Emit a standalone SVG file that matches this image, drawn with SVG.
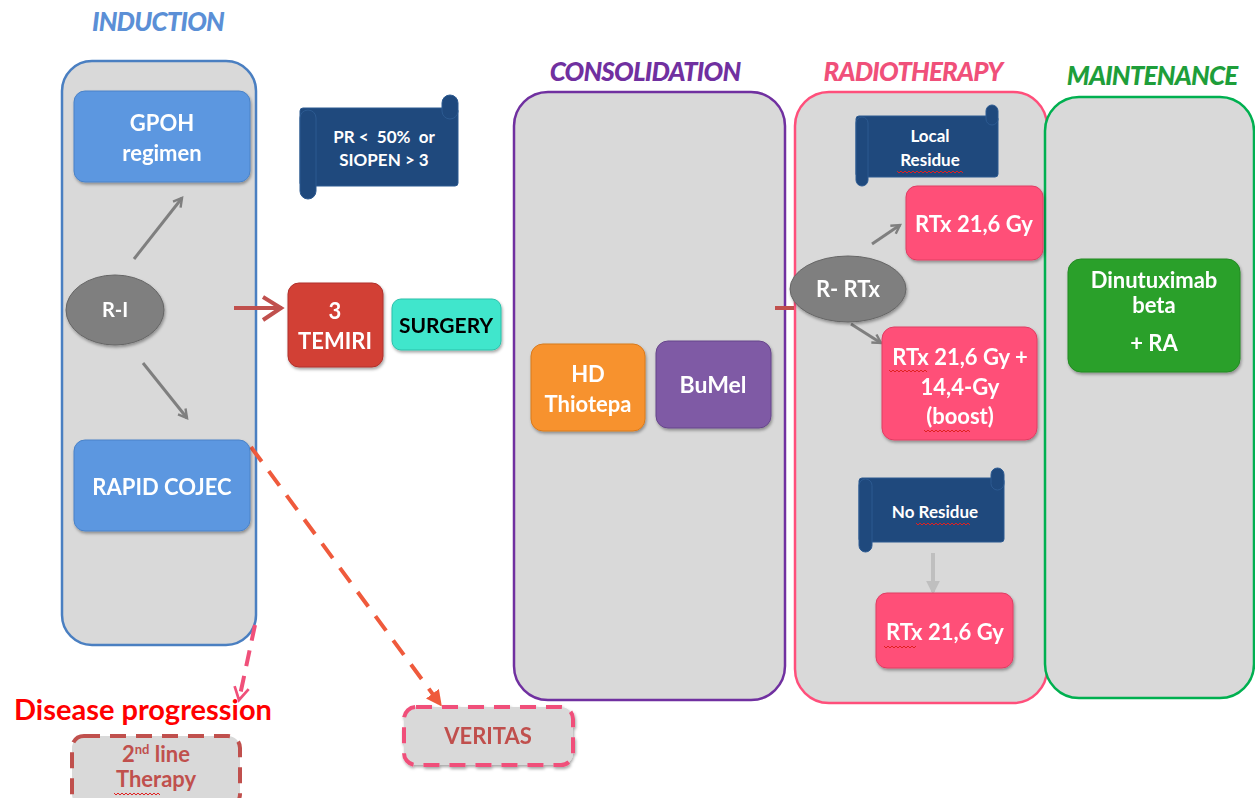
<svg xmlns="http://www.w3.org/2000/svg" width="1255" height="798" viewBox="0 0 1255 798">
<style>
text{font-family:Lato,"Open Sans","Liberation Sans",sans-serif;font-weight:bold;text-anchor:middle}
.title{font-style:italic;font-size:26px;font-weight:900;letter-spacing:-0.8px}
.phase{fill:#d9d9d9;stroke-width:2.5}
.w{fill:#fff;font-size:22px}
.ws{fill:#fff;font-size:17px}
.box{filter:url(#sh)}
.scroll{fill:#1f497d;stroke:#2c5a91;stroke-width:1}
.garr{stroke:#7f7f7f;stroke-width:3;fill:none}
.wavy{fill:none;stroke:#e02020;stroke-width:1}
</style>
<defs>
<filter id="sh" x="-10%" y="-10%" width="125%" height="130%">
<feDropShadow dx="1" dy="2" stdDeviation="1.5" flood-color="#000" flood-opacity="0.35"/>
</filter>
<marker id="ga" viewBox="0 0 10 10" refX="8" refY="5" markerWidth="4" markerHeight="4" orient="auto">
<path d="M1,1 L8,5 L1,9" fill="none" stroke="#7f7f7f" stroke-width="2"/>
</marker>
<marker id="la" viewBox="0 0 10 10" refX="8" refY="5" markerWidth="3.5" markerHeight="3.5" orient="auto">
<path d="M0,0 L10,5 L0,10 z" fill="#bfbfbf"/>
</marker>
<marker id="oa" viewBox="0 0 10 10" refX="8" refY="5" markerWidth="4" markerHeight="4" orient="auto">
<path d="M0,0 L10,5 L0,10 z" fill="#ef5a3c"/>
</marker>
<marker id="pa" viewBox="0 0 10 10" refX="8" refY="5" markerWidth="4.5" markerHeight="4.5" orient="auto">
<path d="M1,1 L8,5 L1,9" fill="none" stroke="#f0507a" stroke-width="1.5"/>
</marker>
</defs>

<!-- phase titles and containers -->
<g id="induction">
<text class="title" x="158" y="31" fill="#5b8fd6">INDUCTION</text>
<rect class="phase" x="62" y="61" width="194" height="584" rx="30" stroke="#4a7fc1"/>
</g>
<g id="consolidation">
<text class="title" x="645" y="81" fill="#7030a0">CONSOLIDATION</text>
<rect class="phase" x="514" y="92" width="271" height="608" rx="34" stroke="#7030a0"/>
</g>
<g id="radiotherapy">
<text class="title" x="913" y="81" fill="#f0507a">RADIOTHERAPY</text>
<rect class="phase" x="795" y="92" width="252" height="611" rx="34" stroke="#ff4f7b"/>
</g>
<g id="maintenance">
<text class="title" x="1152" y="85" fill="#1e9e3a">MAINTENANCE</text>
<rect class="phase" x="1045" y="97" width="209" height="601" rx="34" stroke="#00b050"/>
</g>

<!-- connectors -->
<g id="connectors">
<line class="garr" x1="134" y1="259" x2="182" y2="198" marker-end="url(#ga)"/>
<line class="garr" x1="143" y1="363" x2="187" y2="418" marker-end="url(#ga)"/>
<line x1="234" y1="308" x2="282" y2="308" stroke="#c0504d" stroke-width="4"/>
<polyline points="263,297 281,308 263,320" fill="none" stroke="#c0504d" stroke-width="4"/>
<line x1="775" y1="308" x2="794" y2="308" stroke="#c0504d" stroke-width="4"/>
<line class="garr" x1="872" y1="244" x2="900" y2="225" marker-end="url(#ga)"/>
<line class="garr" x1="851" y1="324" x2="881" y2="343" marker-end="url(#ga)"/>
<line x1="933" y1="553" x2="933" y2="592" stroke="#bfbfbf" stroke-width="4" marker-end="url(#la)"/>
<line x1="251" y1="447" x2="440" y2="704" stroke="#ef5a3c" stroke-width="4" stroke-dasharray="18,12" marker-end="url(#oa)"/>
<line x1="255" y1="625" x2="239" y2="700" stroke="#f0507a" stroke-width="4" stroke-dasharray="16,10" marker-end="url(#pa)"/>
</g>

<!-- nodes -->
<g id="gpoh" class="box">
<rect x="74" y="91" width="176" height="91" rx="11" fill="#5b97e0" stroke="#4a82c8"/>
<text class="w" x="162" y="131">GPOH</text>
<text class="w" x="162" y="161">regimen</text>
</g>
<g id="ri" class="box">
<ellipse cx="115" cy="310" rx="49" ry="35" fill="#7f7f7f" stroke="#666"/>
<text class="ws" x="115" y="317" style="font-size:20px">R-I</text>
</g>
<g id="cojec" class="box">
<rect x="74" y="440" width="176" height="91" rx="11" fill="#5b97e0" stroke="#4a82c8"/>
<text class="w" x="162" y="495">RAPID COJEC</text>
</g>
<g id="pr">
<rect class="scroll" x="300" y="108" width="158" height="78" rx="3"/>
<rect class="scroll" x="300" y="110" width="16" height="89" rx="8"/>
<rect class="scroll" x="442" y="95" width="16" height="24" rx="8"/>
<text class="ws" x="384" y="143">PR &lt;&#160; 50%&#160; or</text>
<text class="ws" x="384" y="166">SIOPEN &gt; 3</text>
</g>
<g id="temiri" class="box">
<rect x="288" y="283" width="95" height="84" rx="11" fill="#d23f36" stroke="#b0302a"/>
<text class="w" x="335" y="319">3</text>
<text class="w" x="335" y="349">TEMIRI</text>
</g>
<g id="surgery" class="box">
<rect x="392" y="299" width="109" height="51" rx="9" fill="#40e6cc" stroke="#2bc0aa"/>
<text x="446" y="333" font-size="21" fill="#000">SURGERY</text>
</g>
<g id="thiotepa" class="box">
<rect x="531" y="344" width="114" height="87" rx="12" fill="#f7922e" stroke="#d87a1c"/>
<text class="w" x="588" y="382">HD</text>
<text class="w" x="588" y="412">Thiotepa</text>
</g>
<g id="bumel" class="box">
<rect x="656" y="341" width="115" height="87" rx="12" fill="#7f5aa5" stroke="#67468b"/>
<text class="w" x="713" y="393" style="font-size:23px">BuMel</text>
</g>
<g id="rrtx" class="box">
<ellipse cx="848" cy="289" rx="58" ry="33" fill="#7f7f7f" stroke="#666"/>
<text class="ws" x="848" y="297" style="font-size:22px">R- RTx</text>
</g>
<g id="local">
<rect class="scroll" x="856" y="116" width="142" height="61" rx="3"/>
<rect class="scroll" x="856" y="117" width="12" height="69" rx="6"/>
<rect class="scroll" x="986" y="105" width="12" height="20" rx="6"/>
<text class="ws" x="930" y="142">Local</text>
<text class="ws" x="930" y="166">Residue</text>
<path class="wavy" d="M897,171 l2,2 l2,-2 l2,2 l2,-2 l2,2 l2,-2 l2,2 l2,-2 l2,2 l2,-2 l2,2 l2,-2 l2,2 l2,-2 l2,2 l2,-2 l2,2 l2,-2 l2,2 l2,-2 l2,2 l2,-2 l2,2 l2,-2 l2,2 l2,-2 l2,2 l2,-2 l2,2 l2,-2 l2,2 l2,-2 l2,2"/>
</g>
<g id="rtx1" class="box">
<rect x="906" y="186" width="137" height="74" rx="11" fill="#ff5078" stroke="#e03c63"/>
<text class="w" x="974" y="232">RTx 21,6 Gy</text>
</g>
<g id="rtxboost" class="box">
<rect x="882" y="327" width="155" height="113" rx="12" fill="#ff5078" stroke="#e03c63"/>
<text class="w" x="960" y="365">RTx 21,6 Gy +</text>
<text class="w" x="960" y="395">14,4-Gy</text>
<text class="w" x="960" y="424">(boost)</text>
<path class="wavy" d="M889,370 l2,2 l2,-2 l2,2 l2,-2 l2,2 l2,-2 l2,2 l2,-2 l2,2 l2,-2 l2,2 l2,-2 l2,2 l2,-2 l2,2 l2,-2 l2,2 l2,-2 l2,2"/>
<path class="wavy" d="M924,430 l2,2 l2,-2 l2,2 l2,-2 l2,2 l2,-2 l2,2 l2,-2 l2,2 l2,-2 l2,2 l2,-2 l2,2 l2,-2 l2,2 l2,-2 l2,2 l2,-2 l2,2 l2,-2 l2,2 l2,-2 l2,2"/>
</g>
<g id="noresidue">
<rect class="scroll" x="859" y="478" width="145" height="64" rx="3"/>
<rect class="scroll" x="859" y="479" width="13" height="73" rx="6.5"/>
<rect class="scroll" x="991" y="468" width="13" height="22" rx="6.5"/>
<text class="ws" x="935" y="518">No Residue</text>
<path class="wavy" d="M916,523 l2,2 l2,-2 l2,2 l2,-2 l2,2 l2,-2 l2,2 l2,-2 l2,2 l2,-2 l2,2 l2,-2 l2,2 l2,-2 l2,2 l2,-2 l2,2 l2,-2 l2,2 l2,-2 l2,2 l2,-2 l2,2 l2,-2 l2,2 l2,-2 l2,2"/>
</g>
<g id="rtx2" class="box">
<rect x="876" y="593" width="137" height="75" rx="11" fill="#ff5078" stroke="#e03c63"/>
<text class="w" x="945" y="640">RTx 21,6 Gy</text>
<path class="wavy" d="M884,646 l2,2 l2,-2 l2,2 l2,-2 l2,2 l2,-2 l2,2 l2,-2 l2,2 l2,-2 l2,2 l2,-2 l2,2 l2,-2 l2,2 l2,-2"/>
</g>
<g id="dinutuximab" class="box">
<rect x="1068" y="259" width="172" height="113" rx="13" fill="#2ca02c" stroke="#218a21"/>
<text class="w" x="1154" y="288">Dinutuximab</text>
<text class="w" x="1154" y="313">beta</text>
<text class="w" x="1154" y="351">+ RA</text>
</g>
<g id="progression">
<text x="143" y="720" font-size="29" fill="#ff0000">Disease progression</text>
</g>
<g id="secondline">
<rect x="72" y="736" width="168" height="70" rx="12" fill="#d9d9d9" stroke="#c0504d" stroke-width="4" stroke-dasharray="16,10"/>
<text x="156" y="762" font-size="22" fill="#c0504d">2<tspan font-size="13" dy="-8">nd</tspan><tspan dy="8"> line</tspan></text>
<text x="156" y="787" font-size="22" fill="#c0504d">Therapy</text>
<path class="wavy" d="M114,793 l2,2 l2,-2 l2,2 l2,-2 l2,2 l2,-2 l2,2 l2,-2 l2,2 l2,-2 l2,2 l2,-2 l2,2 l2,-2 l2,2 l2,-2 l2,2 l2,-2 l2,2 l2,-2 l2,2 l2,-2 l2,2"/>
</g>
<g id="veritas" class="box">
<rect x="404" y="707" width="169" height="58" rx="12" fill="#d9d9d9" stroke="#f0507a" stroke-width="4" stroke-dasharray="16,10"/>
<text x="488" y="744" font-size="22" fill="#c0504d">VERITAS</text>
</g>
</svg>
